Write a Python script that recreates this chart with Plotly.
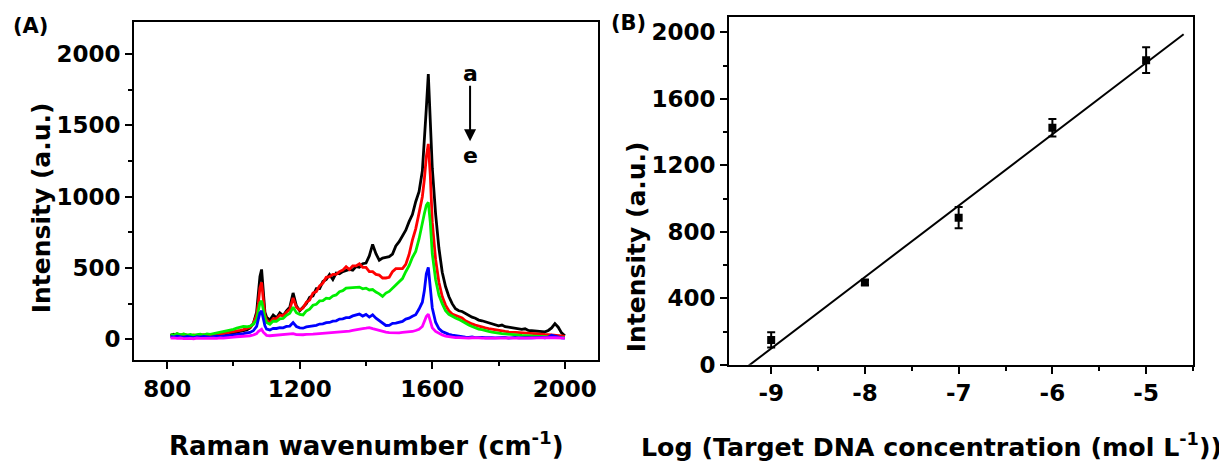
import plotly.graph_objects as go
import numpy as np

# ---------------- Panel A data: Raman spectra ----------------
wavenumber = [810, 820, 830, 840, 850, 860, 870, 880, 890, 900,
              910, 920, 930, 940, 950, 960, 970, 980, 990, 1000,
              1010, 1020, 1030, 1040, 1050, 1060, 1070,
              1075, 1080, 1085, 1090, 1095,
              1100, 1110, 1120, 1130, 1140, 1150, 1160, 1170, 1180, 1190,
              1200, 1210, 1220, 1230, 1240, 1250, 1260, 1270, 1280, 1290,
              1300, 1310, 1320, 1330, 1340, 1350, 1360, 1370, 1380, 1390,
              1400, 1410, 1420, 1430, 1440, 1450, 1460, 1470, 1480, 1490,
              1500, 1510, 1520, 1530, 1540, 1550, 1560,
              1570, 1576, 1582, 1588, 1594,
              1600, 1610, 1620, 1630, 1640, 1650, 1660, 1670, 1680, 1690,
              1700, 1710, 1720, 1730, 1740, 1750, 1760, 1770, 1780, 1790,
              1800, 1810, 1820, 1830, 1840, 1850, 1860, 1870, 1880, 1890,
              1900, 1910, 1920, 1930, 1940, 1950, 1960, 1970, 1980, 1990,
              2000]

spec_a = [28, 35, 22, 30, 18, 25, 15, 22, 12, 20, 18, 26, 20, 15, 24, 28, 22, 30, 38, 42, 50, 55, 62, 65, 80, 110, 190,
          300, 440, 490, 330, 190,
          155, 135, 170, 150, 185, 165, 200, 225, 325, 235,
          200, 225, 250, 295, 305, 355, 355, 405, 420, 455,
          420, 465, 460, 475, 480, 490, 485, 510, 505, 530,
          535, 585, 665, 600, 555, 570, 575, 580, 598, 655,
          685, 725, 765, 825, 875, 965, 1035,
          1180, 1380, 1620, 1860, 1560,
          1200, 880, 640, 470, 370, 300, 250, 215, 200, 195,
          180, 165, 155, 148, 135, 130, 124, 115, 110, 104,
          95, 100, 88, 85, 80, 78, 72, 70, 74, 62,
          60, 58, 55, 50, 52, 62, 80, 110, 85, 45,
          25]

spec_b = [30, 25, 38, 28, 35, 30, 22, 30, 25, 28, 32, 30, 25, 28, 32, 35, 40, 42, 48, 55, 58, 62, 68, 75, 85, 110, 170,
          250, 360, 400, 280, 170,
          135, 115, 145, 145, 170, 165, 190, 210, 290, 225,
          205, 220, 260, 275, 325, 335, 375, 395, 435, 440,
          455, 455, 475, 485, 510, 490, 515, 515, 530, 505,
          505, 475, 475, 455, 450, 430, 430, 435, 475, 495,
          495, 495, 525, 595, 695, 775, 885,
          1000, 1120, 1280, 1370, 1150,
          820, 560, 400, 300, 240, 200, 178, 168, 162, 150,
          130, 118, 108, 100, 92, 88, 80, 75, 70, 65,
          60, 58, 55, 52, 50, 48, 46, 44, 42, 40,
          40, 38, 36, 35, 34, 33, 32, 30, 28, 24,
          20]

spec_c = [35, 28, 40, 32, 38, 30, 35, 28, 32, 36, 30, 38, 35, 40, 42, 45, 50, 55, 62, 70, 78, 85, 90, 88, 92, 105, 140,
          200, 255, 270, 210, 150,
          118, 106, 128, 126, 144, 146, 168, 182, 225, 186,
          174, 171, 199, 211, 239, 246, 269, 271, 289, 286,
          304, 311, 334, 341, 359, 361, 364, 364, 366, 354,
          359, 346, 349, 331, 319, 301, 324, 336, 359, 376,
          404, 426, 474, 516, 574, 616, 704,
          800, 880, 940, 960, 820,
          600, 420, 310, 250, 200, 175, 160, 150, 140, 125,
          110, 100, 90, 80, 72, 68, 60, 55, 50, 45,
          42, 40, 38, 35, 32, 30, 28, 27, 26, 25,
          24, 23, 22, 21, 20, 20, 19, 18, 16, 14,
          12]

spec_d = [20, 15, 22, 18, 14, 20, 16, 12, 18, 15, 20, 17, 14, 19, 22, 18, 24, 25, 28, 30, 35, 38, 40, 45, 48, 60, 90,
          140, 185, 200, 140, 95,
          72, 66, 77, 76, 82, 80, 90, 93, 117, 90,
          80, 78, 87, 90, 97, 98, 107, 108, 117, 118,
          127, 130, 142, 143, 152, 153, 164, 168, 177, 163,
          174, 156, 172, 148, 132, 110, 97, 98, 112, 113,
          122, 126, 142, 148, 162, 173, 212,
          260, 340, 460, 505, 380,
          220, 120, 75, 55, 42, 35, 30, 25, 20, 18,
          15, 14, 16, 12, 15, 13, 11, 14, 12, 10,
          12, 10, 13, 9, 11, 14, 10, 12, 9, 11,
          10, 12, 9, 14, 11, 15, 28, 22, 12, 10,
          8]

spec_e = [8, 10, 6, 9, 5, 8, 7, 4, 9, 6, 8, 5, 7, 9, 6, 10, 8, 12, 14, 15, 18, 20, 22, 20, 25, 30, 40,
          55, 65, 70, 50, 35,
          28, 25, 27, 30, 28, 30, 32, 35, 40, 33,
          30, 32, 35, 34, 36, 38, 40, 42, 40, 43,
          45, 48, 50, 52, 55, 58, 62, 68, 72, 75,
          78, 82, 75, 68, 60, 55, 50, 47, 45, 44,
          45, 48, 50, 52, 55, 62, 70,
          90, 120, 160, 176, 130,
          80, 55, 40, 30, 22, 18, 15, 12, 12, 10,
          10, 9, 11, 8, 10, 9, 8, 10, 9, 8,
          9, 8, 10, 7, 9, 8, 10, 9, 8, 9,
          8, 10, 9, 8, 9, 10, 12, 11, 9, 8,
          8]

spectra = [("a", spec_a, "#000000"), ("b", spec_b, "#ff0000"), ("c", spec_c, "#00ee00"),
           ("d", spec_d, "#0000ff"), ("e", spec_e, "#ff00ff")]

# ---------------- Panel B data: calibration ----------------
log_conc = [-9, -8, -7, -6, -5]
log_conc_labels = ["-9", "-8", "-7", "-6", "-5"]
intensity = [150, 495, 885, 1426, 1833]
intensity_err = [46, 15, 64, 53, 77]
fit_x_range = [-9.3, -4.6]

FONT = "DejaVu Sans"
W, H = 1227, 470


def px(x):
    return x / W


def py(y):
    return 1 - y / H


fig = go.Figure()

for name, vals, col in spectra:
    fig.add_trace(go.Scatter(x=wavenumber, y=vals, mode="lines", name=name,
                             line=dict(color=col, width=2.8), xaxis="x", yaxis="y",
                             showlegend=False))

slope, intercept = np.polyfit(log_conc, intensity, 1)
fx = np.array(fit_x_range)
fig.add_trace(go.Scatter(x=fx, y=slope * fx + intercept, mode="lines",
                         line=dict(color="black", width=2), xaxis="x2", yaxis="y2",
                         showlegend=False))
fig.add_trace(go.Scatter(x=log_conc, y=intensity, mode="markers",
                         marker=dict(symbol="square", size=8, color="black"),
                         error_y=dict(type="data", array=intensity_err, visible=True,
                                      color="black", thickness=2, width=4),
                         xaxis="x2", yaxis="y2", showlegend=False))

tickfont = dict(family=FONT, size=23, color="black", weight="bold")
axis_common = dict(showline=True, mirror=True, linecolor="black", linewidth=2,
                   ticks="outside", ticklen=7, tickwidth=2, tickcolor="black",
                   showgrid=False, zeroline=False, tickfont=tickfont)
minor_common = dict(ticklen=4, tickwidth=2, tickcolor="black", ticks="outside")

fig.update_layout(
    width=W, height=H,
    margin=dict(l=0, r=0, t=0, b=0),
    paper_bgcolor="white", plot_bgcolor="white",
    xaxis=dict(domain=[px(126), px(590)], range=[700, 2100], anchor="y",
               tickvals=[800, 1200, 1600, 2000],
               minor=dict(tickvals=[1000, 1400, 1800], **minor_common),
               **axis_common),
    yaxis=dict(domain=[py(362), py(14)], range=[-145, 2228], anchor="x",
               tickvals=[0, 500, 1000, 1500, 2000],
               minor=dict(tickvals=[250, 750, 1250, 1750], **minor_common),
               **axis_common),
    xaxis2=dict(domain=[px(721), px(1185)], range=[-9.45, -4.5], anchor="y2",
                tickvals=log_conc, ticktext=log_conc_labels,
                minor=dict(tickvals=[-9.5, -8.5, -7.5, -6.5, -5.5, -4.5], **minor_common),
                **axis_common),
    yaxis2=dict(domain=[py(367), py(9)], range=[0, 2094], anchor="x2",
                tickvals=[0, 400, 800, 1200, 1600, 2000],
                minor=dict(tickvals=[200, 600, 1000, 1400, 1800], **minor_common),
                **axis_common),
)

title_font = dict(family=FONT, size=26, color="black", weight="bold")
label_font = dict(family=FONT, size=21, color="black", weight="bold")
annots = [
    dict(text="(A)", x=px(22), y=py(19), font=label_font),
    dict(text="(B)", x=px(620), y=py(15), font=label_font),
    dict(text="Intensity (a.u.)", x=px(33), y=py(206), textangle=-90,
         font=dict(family=FONT, size=25, color="black", weight="bold")),
    dict(text="Raman wavenumber (cm<sup>-1</sup>)", x=px(358), y=py(448), font=title_font),
    dict(text="Intensity (a.u.)", x=px(628), y=py(246), textangle=-90,
         font=dict(family=FONT, size=25, color="black", weight="bold")),
    dict(text="Log (Target DNA concentration (mol L<sup>-1</sup>))", x=px(923), y=py(450),
         font=dict(family=FONT, size=25.3, color="black", weight="bold")),
]
for a in annots:
    fig.add_annotation(xref="paper", yref="paper", showarrow=False,
                       xanchor="center", yanchor="middle", **a)

# a -> e arrow in panel A
letter_font = dict(family=FONT, size=22, color="black", weight="bold")
fig.add_annotation(xref="x", yref="y", x=1714, y=1866, text="a", showarrow=False, font=letter_font)
fig.add_annotation(xref="x", yref="y", x=1714, y=1287, text="e", showarrow=False, font=letter_font)
fig.add_annotation(xref="x", yref="y", axref="x", ayref="y", x=1714, y=1389,
                   ax=1714, ay=1788, text="", showarrow=True, arrowhead=2,
                   arrowsize=1.2, arrowwidth=2, arrowcolor="black")

fig.write_html("out.html")
